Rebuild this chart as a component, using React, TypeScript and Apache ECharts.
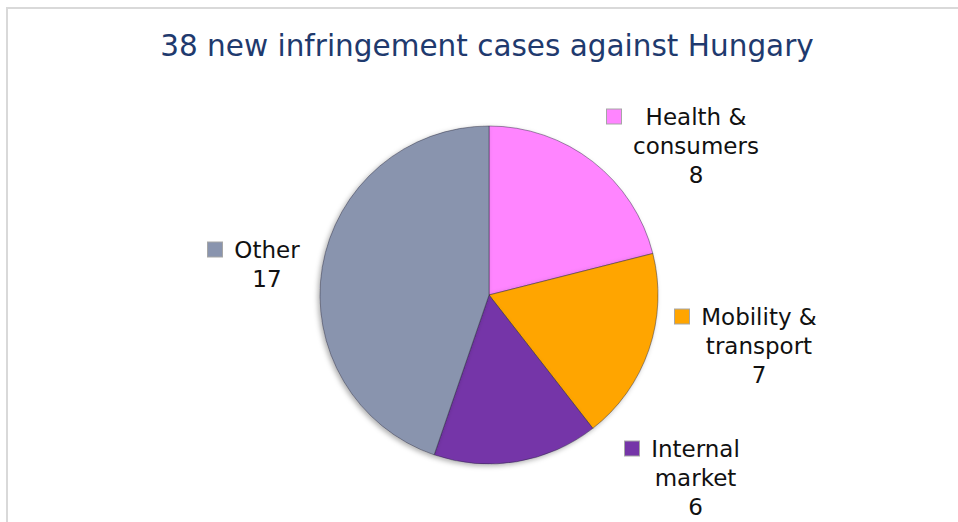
import React, { useEffect, useRef } from "react";
import * as echarts from "echarts";

const titleText = "38 new infringement cases against Hungary";
const categories = ["Health &\nconsumers", "Mobility &\ntransport", "Internal\nmarket", "Other"];
const values = [8, 7, 6, 17];
const colors = ["#FF85FF", "#FFA500", "#7535A8", "#8994AE"];

const FONT = "DejaVu Sans";
const FONT_SIZE = 23;
const LINE_H = 29;
// label block top-left anchor positions (layout, not data)
const labelAnchors = [
  [607, 102],
  [675, 302],
  [625, 434],
  [208, 235],
];

function measure(text: string): number {
  const c = document.createElement("canvas");
  const ctx = c.getContext("2d")!;
  ctx.font = `${FONT_SIZE}px "${FONT}"`;
  return Math.max(...text.split("\n").map((l) => ctx.measureText(l).width));
}

export default function App() {
  const ref = useRef<HTMLDivElement>(null);
  useEffect(() => {
    const chart = echarts.init(ref.current!, null, { renderer: "svg" });
    const rich: any = {};
    categories.forEach((cat, i) => {
      rich["m" + i] = {
        width: 14,
        height: 14,
        backgroundColor: colors[i],
        borderColor: "rgba(0,0,0,0.35)",
        borderWidth: 1,
      };
      rich["g" + i] = { width: 11, height: 14 };
      rich["b" + i] = { width: 25, height: 14 };
      rich["t" + i] = {
        width: Math.ceil(measure(cat + "\n" + values[i])) + 2,
        align: "center",
        fontSize: FONT_SIZE,
        fontFamily: FONT,
        color: "#111",
        lineHeight: LINE_H,
      };
    });
    const data = categories.map((name, i) => ({
      name,
      value: values[i],
      itemStyle: {
        color: colors[i],
        borderColor: "rgba(40,40,60,0.45)",
      },
    }));
    chart.setOption({
      animation: false,
      backgroundColor: "#ffffff",
      title: {
        text: titleText,
        left: 487,
        top: 31,
        textAlign: "center",
        padding: 0,
        textStyle: { fontFamily: FONT, fontSize: 29.5, fontWeight: "normal", color: "#1F3A6E" },
      },
      graphic: [
        {
          type: "rect",
          shape: { x: 7, y: 8, width: 1000, height: 600 },
          style: { fill: "none", stroke: "#D9D9D9", lineWidth: 2 },
          silent: true,
        },
      ],
      series: [
        {
          type: "pie",
          center: [489, 295],
          radius: 169,
          startAngle: 90,
          clockwise: true,
          avoidLabelOverlap: false,
          itemStyle: {
            borderWidth: 1,
            shadowBlur: 5,
            shadowOffsetX: -2,
            shadowOffsetY: 2,
            shadowColor: "rgba(0,0,0,0.3)",
          },
          label: {
            show: true,
            position: "outside",
            formatter: (p: any) => {
              const i = p.dataIndex;
              const lines = (categories[i] + "\n" + values[i]).split("\n");
              return lines
                .map((l, k) => (k === 0 ? `{m${i}|}{g${i}|}{t${i}|${l}}` : `{b${i}|}{t${i}|${l}}`))
                .join("\n");
            },
            rich,
          },
          labelLine: { show: false },
          labelLayout: (p: any) => ({
            x: labelAnchors[p.dataIndex][0],
            y: labelAnchors[p.dataIndex][1],
            align: "left",
            verticalAlign: "top",
          }),
          emphasis: { disabled: true },
          data,
        },
      ],
    });
    return () => chart.dispose();
  }, []);
  return (
    <div
      ref={ref}
      style={{ position: "fixed", left: 0, top: 0, width: 958, height: 522 }}
    />
  );
}
